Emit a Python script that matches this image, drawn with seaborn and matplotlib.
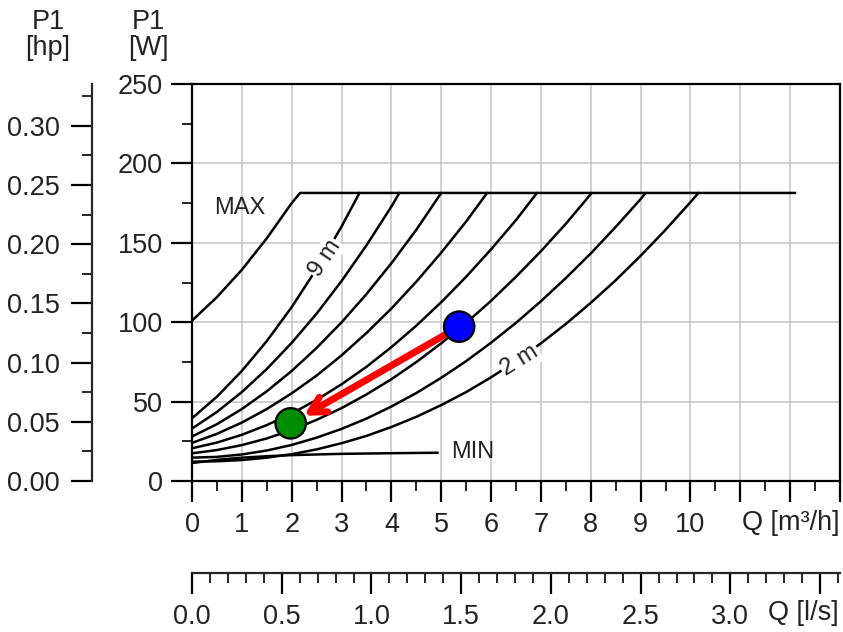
import numpy as np
import pandas as pd
import matplotlib
matplotlib.use('Agg')
from matplotlib import pyplot as plt
from matplotlib.ticker import MultipleLocator, FormatStrFormatter
import seaborn as sns

# curve data: Q [m3/h] vs P1 [W]
Q_MAX = [0, 0.5, 1, 1.5, 2, 2.17, 12.1]
P_MAX = [101, 115.8, 133, 152.8, 175, 181.4, 181.4]
Q_9M = [0, 0.5, 1, 1.5, 2, 2.5, 3, 3.36]
P_9M = [39.5, 53.1, 69.3, 88.1, 109.5, 133.6, 160.2, 181.4]
Q_8M = [0, 0.5, 1, 1.5, 2, 2.5, 3, 3.5, 4, 4.16]
P_8M = [33, 43.5, 56, 70.5, 87, 105.4, 125.9, 148.4, 172.8, 181.4]
Q_7M = [0, 0.5, 1, 1.5, 2, 2.5, 3, 3.5, 4, 4.5, 5]
P_7M = [28, 35.8, 45.3, 56.5, 69.3, 83.8, 99.9, 117.7, 137.1, 158.2, 181.4]
Q_6M = [0, 0.5, 1, 1.5, 2, 2.5, 3, 3.5, 4, 4.5, 5, 5.5, 5.92]
P_6M = [24, 29.7, 36.8, 45.3, 55.2, 66.4, 79.1, 93.2, 108.6, 125.5, 143.8, 163.4, 181.4]
Q_5M = [0, 0.5, 1, 1.5, 2, 2.5, 3, 3.5, 4, 4.5, 5, 5.5, 6, 6.5, 6.92]
P_5M = [20.6, 24.2, 29.1, 35.2, 42.5, 51.1, 60.9, 71.9, 84.3, 97.8, 112.6, 128.6,
        145.9, 164.3, 181.4]
Q_4M = [0, 0.5, 1, 1.5, 2, 2.5, 3, 3.5, 4, 4.5, 5, 5.5, 6, 6.5, 7, 7.5, 8.02]
P_4M = [17.4, 19.5, 22.6, 26.8, 32.1, 38.5, 45.9, 54.5, 64.1, 74.9, 86.7, 99.5,
        113.5, 128.6, 144.7, 162, 181.4]
Q_3M = [0, 0.5, 1, 1.5, 2, 2.5, 3, 3.5, 4, 4.5, 5, 5.5, 6, 6.5, 7, 7.5, 8, 8.5, 9, 9.1]
P_3M = [14.7, 15.2, 16.7, 19.2, 22.7, 27.3, 32.8, 39.3, 46.9, 55.4, 65, 75.5, 87.1,
        99.6, 113.2, 127.8, 143.3, 160, 177.5, 181.4]
Q_2M = [0, 0.5, 1, 1.5, 2, 2.5, 3, 3.5, 4, 4.5, 5, 5.5, 6, 6.5, 7, 7.5, 8, 8.5, 9,
        9.5, 10, 10.16]
P_2M = [12.2, 12.4, 13.2, 14.7, 16.9, 19.9, 23.8, 28.4, 34, 40.4, 47.8, 56, 65.3,
        75.5, 86.7, 98.9, 112.2, 126.4, 141.8, 158.2, 175.6, 181.4]
Q_MIN = [0, 0.5, 1, 1.5, 2, 3, 4, 4.93]
P_MIN = [11.3, 13.3, 14.7, 15.6, 16.3, 17.1, 17.5, 17.8]

# operating points
PT_NAMES = ["start", "end"]
PT_Q = [5.36, 1.98]
PT_P = [97.2, 36.3]
PT_COLORS = ["#0000ff", "#008c00"]

X_TICKS = list(range(0, 14))
X_LABELS = [str(i) for i in range(0, 11)] + ["", "", ""]
LS_TICKS = [0, 0.5, 1.0, 1.5, 2.0, 2.5, 3.0, 3.5]
LS_LABELS = ["0.0", "0.5", "1.0", "1.5", "2.0", "2.5", "3.0", ""]
HP_TICKS = [0, 0.05, 0.10, 0.15, 0.20, 0.25, 0.30]
W_TICKS = [0, 50, 100, 150, 200, 250]

curves = {
    "MAX": (Q_MAX, P_MAX), "9 m": (Q_9M, P_9M), "8 m": (Q_8M, P_8M),
    "7 m": (Q_7M, P_7M), "6 m": (Q_6M, P_6M), "5 m": (Q_5M, P_5M),
    "4 m": (Q_4M, P_4M), "3 m": (Q_3M, P_3M), "2 m": (Q_2M, P_2M),
    "MIN": (Q_MIN, P_MIN),
}
df = pd.concat([pd.DataFrame({"Q": q, "P1": p, "curve": name})
                for name, (q, p) in curves.items()], ignore_index=True)
pts = pd.DataFrame({"Q": PT_Q, "P1": PT_P, "pt": PT_NAMES})

sns.set_style("white")
plt.rcParams['font.family'] = ['Liberation Sans', 'DejaVu Sans']
TXT = "#222222"
plt.rcParams['text.color'] = TXT
plt.rcParams['xtick.color'] = "black"
plt.rcParams['ytick.color'] = "black"
plt.rcParams['xtick.labelcolor'] = TXT
plt.rcParams['ytick.labelcolor'] = TXT
FS = 19.5

W, H = 843, 632
fig = plt.figure(figsize=(W / 100, H / 100), dpi=100)
ax = fig.add_axes([192 / W, 1 - 481 / H, 648 / W, 397 / H])

sns.lineplot(data=df, x="Q", y="P1", units="curve", estimator=None, sort=False,
             color="black", lw=1.8, ax=ax, zorder=3)
for ln in ax.get_lines():
    ln.set_solid_joinstyle("round")

ax.set_xlim(0, 13)
ax.set_ylim(0, 250)
ax.set_xticks(X_TICKS)
ax.set_xticklabels(X_LABELS)
ax.xaxis.set_minor_locator(MultipleLocator(0.5))
ax.set_yticks(W_TICKS)
ax.yaxis.set_minor_locator(MultipleLocator(25))
ax.grid(True, which="major", color="#c8c8c8", lw=1.2, zorder=0)
ax.set_axisbelow(True)
for s in ax.spines.values():
    s.set_color("black")
    s.set_linewidth(1.6)
ax.tick_params(which="major", direction="out", length=15, width=1.6,
               labelsize=FS, bottom=True, left=True)
ax.tick_params(axis="x", which="major", pad=7)
ax.tick_params(axis="y", which="major", pad=6)
ax.tick_params(which="minor", direction="out", length=7, width=1.2,
               bottom=True, left=True)

# curve labels
lab = dict(fontsize=17, ha="center", va="center", zorder=4)
ax.text(0.96, 172, "MAX", **lab)
ax.text(5.64, 18.3, "MIN", **lab)
ax.text(2.66, 140.5, "9 m", rotation=56, rotation_mode="anchor",
        bbox=dict(fc="white", ec="none", pad=1), **lab)
ax.text(6.58, 76, "2 m", rotation=32, rotation_mode="anchor",
        bbox=dict(fc="white", ec="none", pad=1), **lab)

# arrow between operating points
ax.annotate("", xy=(PT_Q[1], PT_P[1]), xytext=(PT_Q[0], PT_P[0]),
            arrowprops=dict(arrowstyle="->,head_length=1.1,head_width=0.6",
                            color="#ff0000", lw=5, shrinkA=8, shrinkB=11),
            zorder=5)
sns.scatterplot(data=pts, x="Q", y="P1", hue="pt", palette=PT_COLORS, s=480,
                edgecolor="black", linewidth=1.6, legend=False, ax=ax, zorder=6)
ax.set_xlabel("")
ax.set_ylabel("")

# secondary scales: hp on the left, l/s below
hp = ax.secondary_yaxis(-100 / 648, functions=(lambda w: w / 745.7, lambda h: h * 745.7))
hp.set_yticks(HP_TICKS)
hp.yaxis.set_major_formatter(FormatStrFormatter("%.2f"))
hp.yaxis.set_minor_locator(MultipleLocator(0.025))
hp.spines["left"].set_linewidth(1.6)
hp.tick_params(which="major", length=15, width=1.6, labelsize=FS, pad=8)
hp.tick_params(which="minor", length=7, width=1.2)

ls = ax.secondary_xaxis(-92 / 397, functions=(lambda q: q / 3.6, lambda l: l * 3.6))
ls.set_xticks(LS_TICKS)
ls.set_xticklabels(LS_LABELS)
ls.xaxis.set_minor_locator(MultipleLocator(0.1))
ls.spines["bottom"].set_linewidth(1.6)
ls.tick_params(which="major", length=15, width=1.6, labelsize=FS, pad=7)
ls.tick_params(which="minor", length=7, width=1.2)

# headers and axis names
hdr = dict(fontsize=FS, ha="center", va="center")
fig.text(48 / W, 1 - 22 / H, "P1", **hdr)
fig.text(48 / W, 1 - 48 / H, "[hp]", **hdr)
fig.text(148 / W, 1 - 22 / H, "P1", **hdr)
fig.text(148 / W, 1 - 48 / H, "[W]", **hdr)
fig.text(839 / W, 1 - 523 / H, "Q [m³/h]", fontsize=FS, ha="right", va="center")
fig.text(839 / W, 1 - 613 / H, "Q [l/s]", fontsize=FS, ha="right", va="center")

fig.savefig("out.png", dpi=100)
